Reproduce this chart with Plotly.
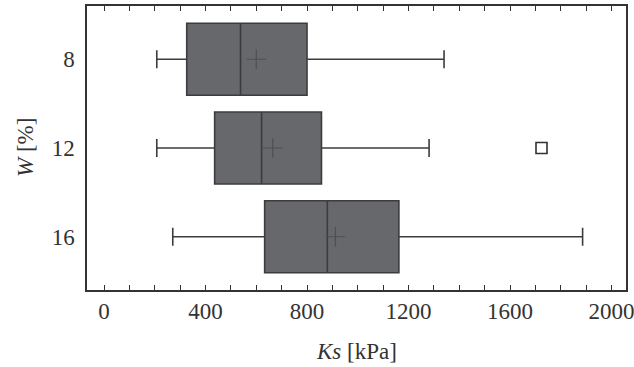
import plotly.graph_objects as go

W_labels = ["8", "12", "16"]
lower_whisker = [208, 208, 271]
q1_vals = [326, 436, 633]
median_vals = [538, 621, 880]
q3_vals = [800, 857, 1162]
upper_whisker = [1340, 1281, 1886]
mean_vals = [600, 665, 912]
outlier_W = ["12"]
outlier_Ks = [1724]
x_ticks = [0, 400, 800, 1200, 1600, 2000]

FONT = "Liberation Serif"
FSIZE = 23

fig = go.Figure()
fig.add_trace(go.Box(
    orientation="h",
    y=W_labels,
    q1=q1_vals, median=median_vals, q3=q3_vals,
    lowerfence=lower_whisker, upperfence=upper_whisker,
    fillcolor="#67686b",
    line=dict(color="#3c3c3e", width=1.6),
    width=0.81,
    whiskerwidth=0.25,
    boxpoints=False,
    showlegend=False,
    hoverinfo="skip",
))
fig.add_trace(go.Scatter(
    x=mean_vals, y=W_labels, mode="markers",
    marker=dict(symbol="cross-thin", size=14, line=dict(color="#4e4f52", width=1.2)),
    showlegend=False, hoverinfo="skip",
))
fig.add_trace(go.Scatter(
    x=outlier_Ks, y=outlier_W, mode="markers",
    marker=dict(symbol="square-open", size=11, color="#333333", line=dict(width=1.6)),
    showlegend=False, hoverinfo="skip",
))

fig.update_layout(
    width=634, height=367,
    margin=dict(l=87, r=8, t=6, b=77, autoexpand=False),
    plot_bgcolor="white", paper_bgcolor="white",
    font=dict(family=FONT, size=FSIZE, color="#333333"),
    xaxis=dict(
        range=[-67, 2057],
        tickvals=x_ticks,
        ticks="inside", ticklen=5, tickwidth=1.2, tickcolor="#333333",
        minor=dict(dtick=100, tick0=0, ticks="inside", ticklen=5, tickwidth=1.2, tickcolor="#333333"),
        showline=True, linecolor="#333333", linewidth=1.5, mirror="ticks",
        showgrid=False, zeroline=False, automargin=False,
        ticklabeloverflow="allow",
    ),
    yaxis=dict(
        type="category",
        categoryorder="array", categoryarray=W_labels,
        range=[2.6, -0.6],
        ticks="", showline=True, linecolor="#333333", linewidth=1.5, mirror=True,
        showgrid=False, zeroline=False, automargin=False,
        ticklabelstandoff=6,
    ),
    annotations=[
        dict(text="<i>Ks</i> [kPa]", xref="paper", yref="paper", x=0.5, y=-0.218,
             xanchor="center", yanchor="middle", showarrow=False,
             font=dict(family=FONT, size=FSIZE, color="#333333")),
        dict(text="<i>W</i> [%]", xref="paper", yref="paper", x=-0.115, y=0.5,
             xanchor="center", yanchor="middle", showarrow=False, textangle=-90,
             font=dict(family=FONT, size=FSIZE, color="#333333")),
    ],
)

fig.write_html("out.html", config={"displayModeBar": False},
               post_script="document.body.style.margin='0';")
